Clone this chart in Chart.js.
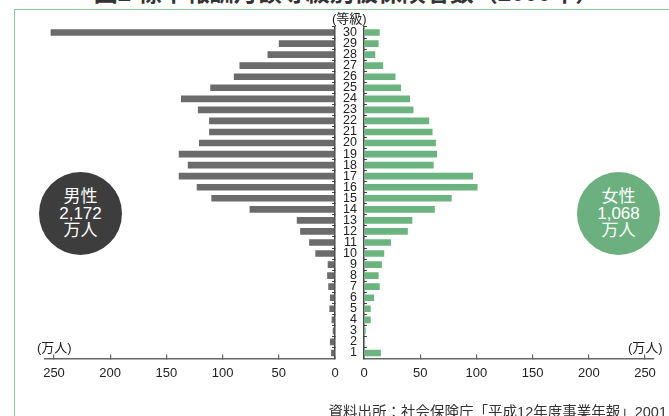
<!DOCTYPE html>
<html>
<head>
<meta charset="utf-8">
<script src="https://cdn.jsdelivr.net/npm/chart.js@4"></script>
<style>
  body { margin: 0; width: 669px; height: 416px; overflow: hidden; background: #fff; position: relative;
         font-family: "Liberation Sans", "Noto Sans CJK JP", sans-serif; color: #222; }
  canvas { position: absolute; top: 0; }
  .lbl { position: absolute; white-space: nowrap; }
  .circle { position: absolute; width: 83px; height: 83px; border-radius: 50%; color: #fff;
            text-align: center; font-size: 17px; line-height: 17px; display: flex; flex-direction: column;
            justify-content: center; }
</style>
</head>
<body>
<div class="lbl" style="left:12px;width:669px;top:-21px;line-height:28px;text-align:center;font-size:24px;font-weight:bold;color:#333;">図2 標準報酬月額等級別被保険者数（2000年）</div>
<div style="position:absolute;left:14px;top:9px;width:670px;height:420px;border-left:1.5px solid #8cc59a;border-top:1.5px solid #8cc59a;"></div>

<canvas id="male" width="340" height="400" style="left:0"></canvas>
<canvas id="female" width="333" height="400" style="left:336px"></canvas>

<div class="lbl" style="left:332px;top:8px;font-size:13px;">(等級)</div>
<div class="lbl" style="left:37px;top:337px;font-size:13px;">(万人)</div>
<div class="lbl" style="left:628px;top:337px;font-size:13px;">(万人)</div>

<div class="circle" style="left:39px;top:172px;background:#3d3d3d;"><div>男性</div><div>2,172</div><div>万人</div></div>
<div class="circle" style="left:577px;top:172px;background:#6cb07f;"><div>女性</div><div>1,068</div><div>万人</div></div>

<div class="lbl" style="right:2px;top:400px;font-size:14.5px;color:#333;">資料出所：社会保険庁「平成12年度事業年報」2001</div>

<script>
// 等級 30 (top) .. 1 (bottom), 単位: 万人
var grades = ['30', '29', '28', '27', '26', '25', '24', '23', '22', '21', '20', '19', '18', '17', '16',
              '15', '14', '13', '12', '11', '10', '9', '8', '7', '6', '5', '4', '3', '2', '1'];
var maleValues = [253, 50, 60, 85, 90, 111, 137, 122, 112, 112, 121, 139, 131, 139, 123,
                  110, 76, 34, 31, 23, 17.5, 6.5, 7, 6, 4.5, 5, 3, 2, 4.5, 3.5];
var femaleValues = [14, 13, 10, 17, 28, 33, 41, 44, 58, 61, 64, 65, 62, 97, 101,
                    78, 63, 43, 39, 24, 18, 16, 13, 14, 9, 6, 6, 1.5, 1, 15];
var xTicks = [0, 50, 100, 150, 200, 250];

var tickFont = { family: 'Liberation Sans', size: 13 };

function xAxis(reverse) {
  return {
    type: 'linear',
    min: 0,
    max: 258,
    reverse: reverse,
    afterFit: function(scale) { scale.height = 41.5; },
    afterBuildTicks: function(scale) {
      scale.ticks = xTicks.map(function(v) { return { value: v }; });
    },
    grid: { drawOnChartArea: false, tickLength: -4, color: '#666', lineWidth: 1.2 },
    border: { color: '#666', width: 1.5 },
    ticks: { padding: 11, color: '#222', font: tickFont, maxRotation: 0, autoSkip: false }
  };
}

function common() {
  return {
    responsive: false,
    animation: false,
    indexAxis: 'y',
    plugins: { legend: { display: false }, tooltip: { enabled: false } },
    datasets: { bar: { barPercentage: 0.6, categoryPercentage: 1 } }
  };
}

var maleOpts = common();
maleOpts.layout = { padding: { top: 27, left: 45, right: 0, bottom: 0 } };
maleOpts.scales = {
  x: xAxis(true),
  y: {
    position: 'right',
    afterFit: function(scale) { scale.width = 5; },
    grid: { offset: true, drawOnChartArea: false, tickLength: -3, color: '#444' },
    border: { color: '#444', width: 1.5 },
    ticks: { display: false, autoSkip: false }
  }
};

var femaleOpts = common();
femaleOpts.layout = { padding: { top: 27, left: 0, right: 15, bottom: 0 } };
femaleOpts.scales = {
  x: xAxis(false),
  y: {
    position: 'left',
    afterFit: function(scale) { scale.width = 28; },
    grid: { offset: true, drawOnChartArea: false, tickLength: -3, color: '#444' },
    border: { color: '#444', width: 1.5 },
    ticks: { padding: 10, color: '#222', autoSkip: false, font: { family: 'Liberation Sans', size: 12.5 } }
  }
};

new Chart(document.getElementById('male'), {
  type: 'bar',
  data: { labels: grades, datasets: [{ data: maleValues, backgroundColor: '#6b6b6b' }] },
  options: maleOpts
});

new Chart(document.getElementById('female'), {
  type: 'bar',
  data: { labels: grades, datasets: [{ data: femaleValues, backgroundColor: '#6cb47f' }] },
  options: femaleOpts
});
</script>
</body>
</html>
